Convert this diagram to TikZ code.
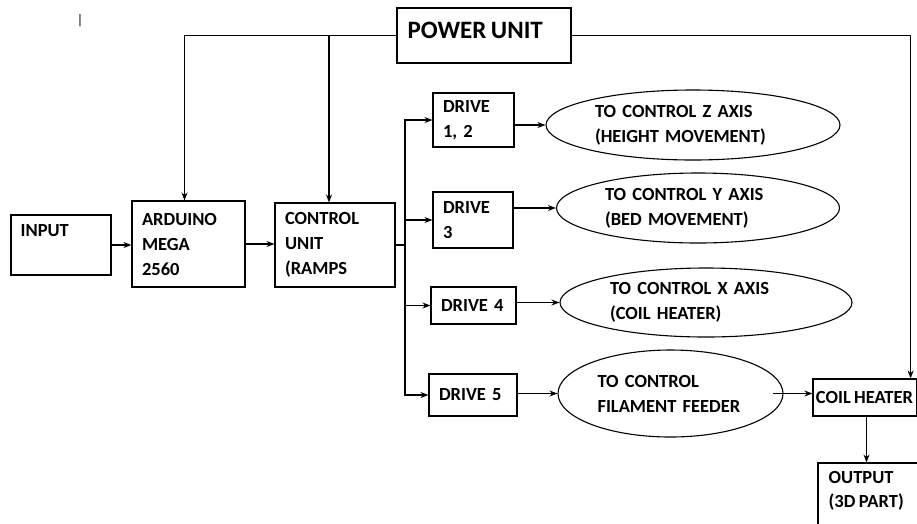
\documentclass[tikz,border=0pt]{standalone}
\usepackage{fontspec}
\setmainfont{Carlito}[WordSpace=0.8]
\usetikzlibrary{shapes.geometric,arrows.meta}

\begin{document}
\begin{tikzpicture}[x=1pt, y=-1pt,
  box/.style={rectangle, draw, line width=1.1pt, font=\bfseries\fontsize{18.5}{25}\selectfont, align=left, inner xsep=10pt, inner ysep=0pt},
  oval/.style={ellipse, draw, line width=1.1pt, font=\bfseries\fontsize{18.5}{25}\selectfont, align=left, inner sep=0pt},
  tag/.style={font=\bfseries\fontsize{18.5}{24}\selectfont, align=left, anchor=north west, inner sep=0pt},
  arr/.style={-{Stealth[length=8pt,width=6pt]}, line width=1.1pt}
]
\useasboundingbox (0,0) rectangle (917,523);
\clip (0,0) rectangle (917,523);
\node[font=\fontsize{14}{14}\selectfont] (cursor) at (80,21) {|};
\node[box, minimum width=174pt, minimum height=55pt, label={[tag, font=\bfseries\fontsize{25}{28}\selectfont, xshift=11pt, yshift=-14pt]north west:POWER UNIT}] (power) at (484,35.5) {};
\node[box, minimum width=100pt, minimum height=60pt, label={[tag, xshift=10pt, yshift=-10pt]north west:INPUT}] (input) at (61,245) {};
\node[box, text width=93pt, minimum height=86pt] (ardu) at (188.5,244) {ARDUINO\\MEGA\\2560};
\node[box, text width=100pt, minimum height=84pt] (ctrl) at (335,245) {CONTROL\\UNIT\\(RAMPS};
\node[box, text width=61pt, minimum height=54pt] (drv12) at (473.5,120) {DRIVE\\1, 2};
\node[box, text width=60pt, minimum height=56pt] (drv3) at (473,220) {DRIVE\\3};
\node[box, text width=65pt, minimum height=37pt] (drv4) at (473.5,305.5) {DRIVE 4};
\node[box, text width=68pt, minimum height=42pt] (drv5) at (473,395) {DRIVE 5};
\node[oval, text width=196pt, minimum width=294pt, minimum height=70pt] (ellZ) at (693,125) {TO CONTROL Z AXIS\\(HEIGHT MOVEMENT)};
\node[oval, text width=186pt, minimum width=283pt, minimum height=70pt] (ellY) at (698,208) {TO CONTROL Y AXIS\\(BED MOVEMENT)};
\node[oval, text width=192pt, minimum width=292pt, minimum height=69pt] (ellX) at (706,302.5) {TO CONTROL X AXIS\\(COIL HEATER)};
\node[oval, text width=146pt, minimum width=225pt, minimum height=87pt] (ellF) at (670.5,393.5) {TO CONTROL\\FILAMENT FEEDER};
\node[box, inner xsep=3pt, minimum width=103pt, minimum height=37pt] (coil) at (864.5,397.5) {COIL HEATER};
\node[box, minimum width=100pt, minimum height=80pt, label={[tag, xshift=11pt, yshift=-9pt]north west:OUTPUT\\(3D PART)}] (output) at (868,503) {};
% power lines
\draw[arr] (power.west) -| ([xshift=-4pt]ardu.north);
\draw[arr] (power.west) -| ([xshift=-6pt]ctrl.north);
\draw[arr] (power.east) -| ([xshift=-6pt]coil.north east);
% main chain
\draw[arr] (input.east) -- (input.east -| ardu.west);
\draw[arr] (ardu.east) -- (ardu.east -| ctrl.west);
\coordinate (bus) at (405,0);
\foreach \d in {drv12,drv3,drv4,drv5}
  \draw[arr] (ctrl.east) -- (ctrl.east -| bus) |- (\d.west);
\foreach \d/\e in {drv12/ellZ,drv3/ellY,drv4/ellX,drv5/ellF}
  \draw[arr] (\e.west -| \d.east) -- (\e.west);
\draw[arr] ([xshift=-11pt]ellF.east) -- (ellF.east -| coil.west);
\draw[arr] ([xshift=2pt]coil.south) -- ([xshift=2pt]coil.south |- output.north);
\end{tikzpicture}
\end{document}
